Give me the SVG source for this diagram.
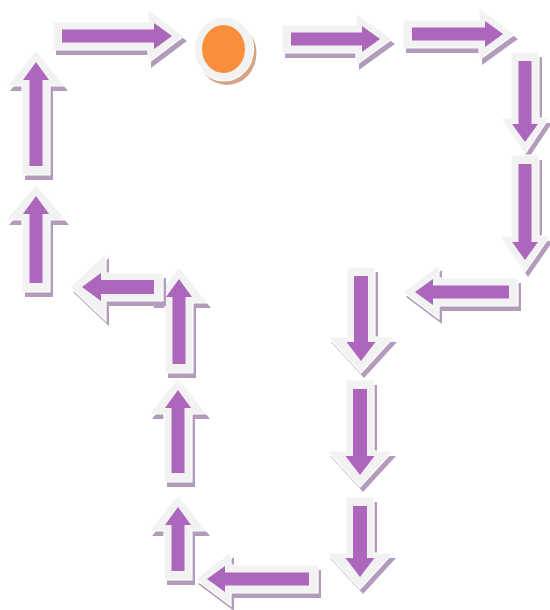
<svg xmlns="http://www.w3.org/2000/svg" width="550" height="610" viewBox="0 0 550 610">
<style>
.sh{fill:#b39bbb}
.out{fill:#f2f2f2;stroke:#ffffff;stroke-width:1.2}
.in{fill:#ac66bb}
</style>
<rect width="550" height="610" fill="#ffffff"/>
<g id="arrow1" transform="translate(53,36)">
<path class="sh" transform="translate(3,5) rotate(0)" d="M0,-14H95V-27L131,0L95,27V14H0Z"/>
<g transform="rotate(0)"><path class="out" d="M0,-14H95V-27L131,0L95,27V14H0Z"/><path class="in" d="M9,-6.5H101V-13L119,0L101,13V6.5H9Z"/></g>
</g>
<g id="start">
<ellipse cx="227" cy="53" rx="29.5" ry="32" fill="#d3a585"/>
<ellipse cx="224" cy="49" rx="29.5" ry="32" fill="#f2f2f2" stroke="#ffffff" stroke-width="1.2"/>
<ellipse cx="223.5" cy="49" rx="21.5" ry="24" fill="#f98f3c"/>
</g>
<g id="arrow2" transform="translate(282,39)">
<path class="sh" transform="translate(3,5) rotate(0)" d="M0,-14H74V-26L110,0L74,26V14H0Z"/>
<g transform="rotate(0)"><path class="out" d="M0,-14H74V-26L110,0L74,26V14H0Z"/><path class="in" d="M9,-6.5H80V-13L98,0L80,13V6.5H9Z"/></g>
</g>
<g id="arrow3" transform="translate(403,34)">
<path class="sh" transform="translate(3,5) rotate(0)" d="M0,-14H76V-26L112,0L76,26V14H0Z"/>
<g transform="rotate(0)"><path class="out" d="M0,-14H76V-26L112,0L76,26V14H0Z"/><path class="in" d="M9,-6.5H82V-13L100,0L82,13V6.5H9Z"/></g>
</g>
<g id="arrow4" transform="translate(525,52)">
<path class="sh" transform="translate(3,5) rotate(90)" d="M0,-14H66V-24L102,0L66,24V14H0Z"/>
<g transform="rotate(90)"><path class="out" d="M0,-14H66V-24L102,0L66,24V14H0Z"/><path class="in" d="M9,-6.5H72V-13L90,0L72,13V6.5H9Z"/></g>
</g>
<g id="arrow5" transform="translate(525,155)">
<path class="sh" transform="translate(3,5) rotate(90)" d="M0,-14H81V-25L117,0L81,25V14H0Z"/>
<g transform="rotate(90)"><path class="out" d="M0,-14H81V-25L117,0L81,25V14H0Z"/><path class="in" d="M9,-6.5H87V-13L105,0L87,13V6.5H9Z"/></g>
</g>
<g id="arrow6" transform="translate(518,292)">
<path class="sh" transform="translate(3,5) rotate(180)" d="M0,-14H79V-27L115,0L79,27V14H0Z"/>
<g transform="rotate(180)"><path class="out" d="M0,-14H79V-27L115,0L79,27V14H0Z"/><path class="in" d="M9,-6.5H85V-13L103,0L85,13V6.5H9Z"/></g>
</g>
<g id="arrow7" transform="translate(361,267)">
<path class="sh" transform="translate(3,5) rotate(90)" d="M0,-14H70V-33L106,0L70,33V14H0Z"/>
<g transform="rotate(90)"><path class="out" d="M0,-14H70V-33L106,0L70,33V14H0Z"/><path class="in" d="M9,-7H75V-14.5L94,0L75,14.5V7H9Z"/></g>
</g>
<g id="arrow8" transform="translate(360,380)">
<path class="sh" transform="translate(3,5) rotate(90)" d="M0,-14H71V-33L107,0L71,33V14H0Z"/>
<g transform="rotate(90)"><path class="out" d="M0,-14H71V-33L107,0L71,33V14H0Z"/><path class="in" d="M9,-7H76V-14.5L95,0L76,14.5V7H9Z"/></g>
</g>
<g id="arrow9" transform="translate(360,497)">
<path class="sh" transform="translate(3,5) rotate(90)" d="M0,-14H56V-33L92,0L56,33V14H0Z"/>
<g transform="rotate(90)"><path class="out" d="M0,-14H56V-33L92,0L56,33V14H0Z"/><path class="in" d="M9,-7H61V-14.5L80,0L61,14.5V7H9Z"/></g>
</g>
<g id="arrow10" transform="translate(318,579)">
<path class="sh" transform="translate(3,5) rotate(180)" d="M0,-14H87V-27L123,0L87,27V14H0Z"/>
<g transform="rotate(180)"><path class="out" d="M0,-14H87V-27L123,0L87,27V14H0Z"/><path class="in" d="M9,-6.5H93V-13L111,0L93,13V6.5H9Z"/></g>
</g>
<g id="arrow11" transform="translate(178,580)">
<path class="sh" transform="translate(3,5) rotate(-90)" d="M0,-14H49V-29L85,0L49,29V14H0Z"/>
<g transform="rotate(-90)"><path class="out" d="M0,-14H49V-29L85,0L49,29V14H0Z"/><path class="in" d="M9,-6.5H55V-13L73,0L55,13V6.5H9Z"/></g>
</g>
<g id="arrow12" transform="translate(178,482)">
<path class="sh" transform="translate(3,5) rotate(-90)" d="M0,-14H68V-29L104,0L68,29V14H0Z"/>
<g transform="rotate(-90)"><path class="out" d="M0,-14H68V-29L104,0L68,29V14H0Z"/><path class="in" d="M9,-6.5H74V-13L92,0L74,13V6.5H9Z"/></g>
</g>
<g id="arrow13" transform="translate(179,373)">
<path class="sh" transform="translate(3,5) rotate(-90)" d="M0,-14H70V-29L106,0L70,29V14H0Z"/>
<g transform="rotate(-90)"><path class="out" d="M0,-14H70V-29L106,0L70,29V14H0Z"/><path class="in" d="M9,-6.5H76V-13L94,0L76,13V6.5H9Z"/></g>
</g>
<g id="arrow14" transform="translate(163,287)">
<path class="sh" transform="translate(3,5) rotate(180)" d="M0,-14H57V-34L93,0L57,34V14H0Z"/>
<g transform="rotate(180)"><path class="out" d="M0,-14H57V-34L93,0L57,34V14H0Z"/><path class="in" d="M9,-7H62V-14L81,0L62,14V7H9Z"/></g>
</g>
<g id="arrow15" transform="translate(36,292)">
<path class="sh" transform="translate(3,5) rotate(-90)" d="M0,-14H72V-30L108,0L72,30V14H0Z"/>
<g transform="rotate(-90)"><path class="out" d="M0,-14H72V-30L108,0L72,30V14H0Z"/><path class="in" d="M9,-6.5H78V-13L96,0L78,13V6.5H9Z"/></g>
</g>
<g id="arrow16" transform="translate(36,175)">
<path class="sh" transform="translate(3,5) rotate(-90)" d="M0,-14H89V-29L125,0L89,29V14H0Z"/>
<g transform="rotate(-90)"><path class="out" d="M0,-14H89V-29L125,0L89,29V14H0Z"/><path class="in" d="M9,-6.5H95V-13L113,0L95,13V6.5H9Z"/></g>
</g>
</svg>
